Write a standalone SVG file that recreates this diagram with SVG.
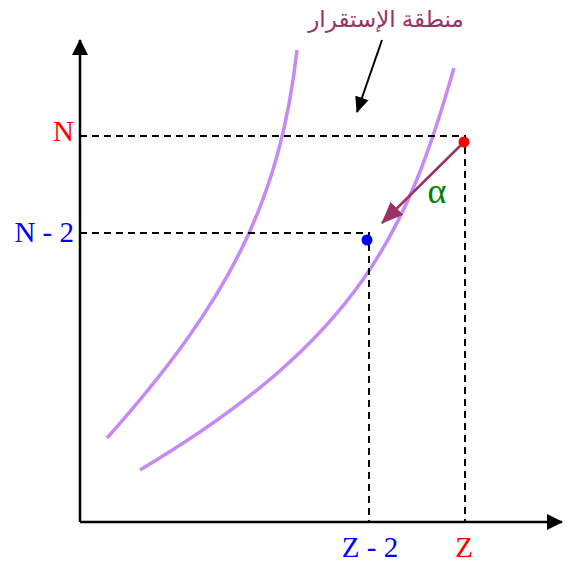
<svg xmlns="http://www.w3.org/2000/svg" width="574" height="564" viewBox="0 0 574 564">
<defs>
<marker id="ah" markerWidth="16" markerHeight="16" refX="15" refY="8" orient="auto" markerUnits="userSpaceOnUse" viewBox="0 0 16 16"><path d="M0,1 L16,8 L0,15 z" fill="#000"/></marker>
<marker id="axh" markerWidth="16" markerHeight="16" refX="15" refY="8" orient="auto" markerUnits="userSpaceOnUse" viewBox="0 0 16 16"><path d="M0,0 L16,8 L0,16 z" fill="#000"/></marker>
<marker id="ph" markerWidth="22" markerHeight="22" refX="21" refY="11" orient="auto" markerUnits="userSpaceOnUse" viewBox="0 0 22 22"><path d="M0,2 L22,11 L0,20 z" fill="#993366"/></marker>
</defs>
<style>
.axis{stroke:#000;stroke-width:2.5;fill:none}
.dash{stroke:#000;stroke-width:2;stroke-dasharray:7,5;fill:none}
.curve{stroke:#c58af5;stroke-width:3.5;fill:none}
.lbl{font-family:"Liberation Serif","Times New Roman",serif;font-size:29px}
</style>
<rect width="574" height="564" fill="#fff"/>
<g id="axes">
<line class="axis" x1="80" y1="522" x2="80" y2="40" marker-end="url(#axh)"/>
<line class="axis" x1="80" y1="522" x2="562" y2="522" marker-end="url(#axh)"/>
</g>
<g id="curves">
<path class="curve" d="M297,50 C280,200 230,300 107,438"/>
<path class="curve" d="M454,68 C408,228 362,338 140,470"/>
</g>
<g id="connectors">
<path class="dash" d="M80,136 H465 V522"/>
<path class="dash" d="M80,233 H369 V522"/>
<line x1="461" y1="145" x2="382" y2="223" stroke="#993366" stroke-width="2.5" marker-end="url(#ph)"/>
<line x1="382" y1="40" x2="357" y2="112" stroke="#000" stroke-width="2" marker-end="url(#ah)"/>
</g>
<g id="pointN"><circle cx="464" cy="142" r="5.5" fill="#ff0000"/></g>
<g id="pointN2"><circle cx="367" cy="240" r="5.5" fill="#0000ff"/></g>
<g id="labels">
<text class="lbl" x="74" y="141" text-anchor="end" fill="#ff0000">N</text>
<text class="lbl" x="74" y="242" text-anchor="end" fill="#0000ff">N - 2</text>
<text class="lbl" x="370" y="557" text-anchor="middle" fill="#0000ff">Z - 2</text>
<text class="lbl" x="464" y="557" text-anchor="middle" fill="#ff0000">Z</text>
<text x="437" y="203" text-anchor="middle" fill="#008000" font-family="'Liberation Serif','Times New Roman',serif" font-size="36">α</text>
<text x="386" y="27" text-anchor="middle" fill="#993366" font-family="'Noto Sans','DejaVu Sans',sans-serif" font-size="23" direction="rtl">منطقة الإستقرار</text>
</g>
</svg>
